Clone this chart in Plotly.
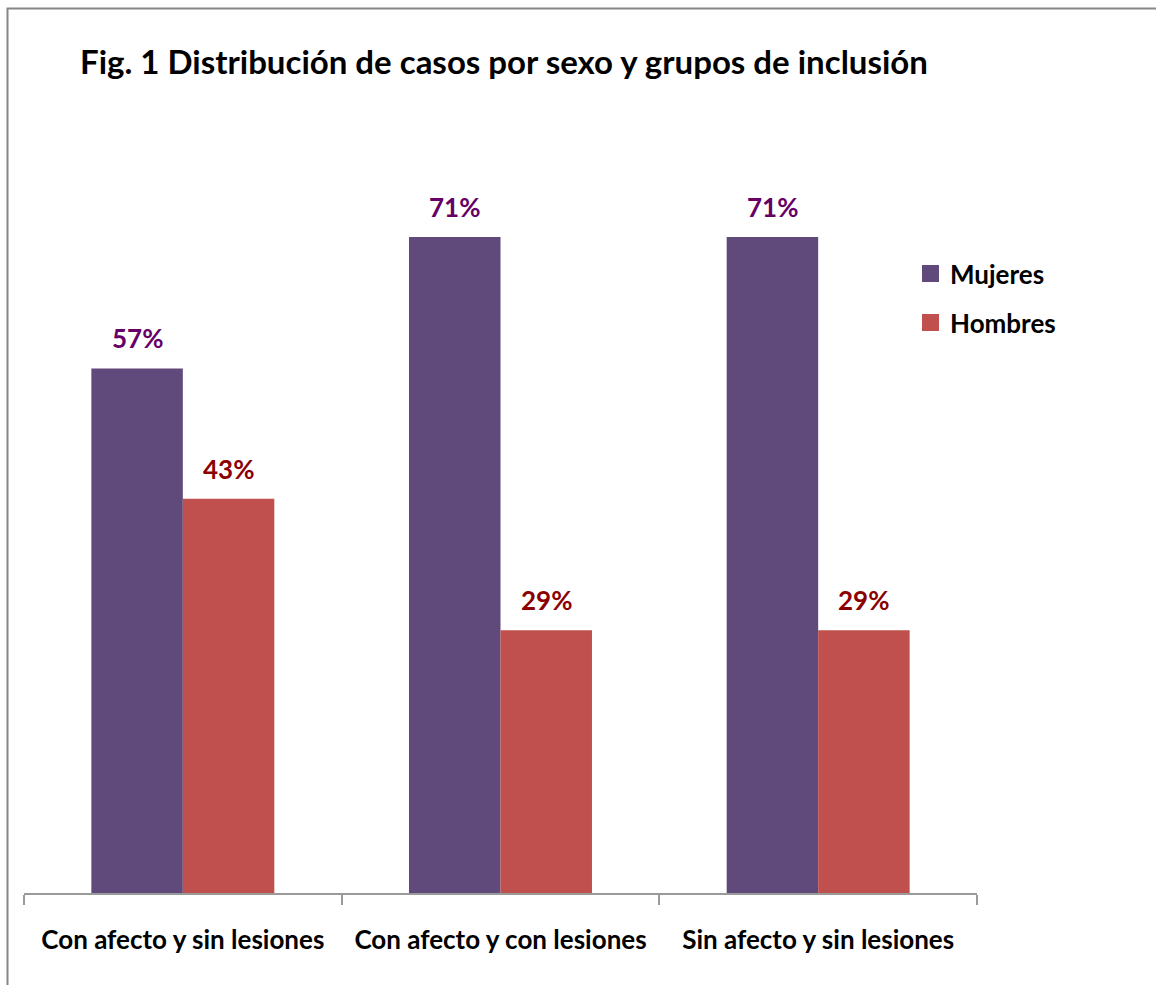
import plotly.graph_objects as go

# Case distribution by sex and inclusion group (shares of each group)
categories = ["Con afecto y sin lesiones", "Con afecto y con lesiones", "Sin afecto y sin lesiones"]
mujeres = [0.571, 0.714, 0.714]
hombres = [0.429, 0.286, 0.286]
series_names = ["Mujeres", "Hombres"]
bar_colors = ["#604A7B", "#C0504D"]
label_colors = ["#660066", "#8B0000"]
title_text = "Fig. 1 Distribución de casos por sexo y grupos de inclusión"

FONT = "Lato"
W, H = 1156, 985
ML, MR, MT, MB = 24, 179, 158, 92
plot_w = W - ML - MR
plot_h = H - MT - MB

fig = go.Figure()
for name, vals, col in zip(series_names, [mujeres, hombres], bar_colors):
    fig.add_trace(go.Bar(
        x=categories, y=vals, name=name,
        marker=dict(color=col, line=dict(width=0)),
        showlegend=False,
    ))

# value labels above each bar
offsets = [-0.5, 0.5]
bar_w = (1 - 0.424) / 2
annotations = []
for k, (vals, lc) in enumerate(zip([mujeres, hombres], label_colors)):
    for i, v in enumerate(vals):
        annotations.append(dict(
            x=i + offsets[k] * bar_w, y=v, xref="x", yref="y",
            text=f"{v:.0%}", showarrow=False, yanchor="bottom",
            yshift=12, font=dict(family=FONT, size=26, color=lc),
        ))

# legend drawn as swatches + labels
def px_x(px):
    return (px - ML) / plot_w

def px_y(py):
    return (H - MB - py) / plot_h

shapes = []
legend_y = [273.5, 322.5]
for name, col, cy in zip(series_names, bar_colors, legend_y):
    shapes.append(dict(type="rect", xref="paper", yref="paper",
                       x0=px_x(922), x1=px_x(939), y0=px_y(cy + 8.5), y1=px_y(cy - 8.5),
                       fillcolor=col, line=dict(width=0)))
    annotations.append(dict(x=px_x(948), y=px_y(cy), xref="paper", yref="paper",
                            text=name, showarrow=False, xanchor="left", yanchor="middle",
                            font=dict(family=FONT, size=26, color="#000000")))

# outer chart border
shapes.append(dict(type="rect", xref="paper", yref="paper",
                   x0=px_x(7.5), x1=px_x(1170), y0=px_y(1000), y1=px_y(8.5),
                   line=dict(color="#868686", width=2), fillcolor="rgba(0,0,0,0)", layer="below"))

fig.update_layout(
    width=W, height=H,
    margin=dict(l=ML, r=MR, t=MT, b=MB),
    paper_bgcolor="white", plot_bgcolor="white",
    barmode="group", bargap=0.424, bargroupgap=0,
    title=dict(text=f"<b>{title_text}</b>", xref="container", yref="container",
               x=80 / W, y=1 - 62 / H, xanchor="left", yanchor="middle",
               font=dict(family=FONT, size=33, color="#000000")),
    xaxis=dict(type="category", range=[-0.5, 2.5], showline=True, linecolor="#9A9A9A",
               linewidth=2, ticks="outside", tickson="boundaries", ticklen=10,
               tickcolor="#9A9A9A", tickwidth=2, showgrid=False,
               tickfont=dict(family=FONT, size=26, color="#000000"),
               ticklabelstandoff=23),
    yaxis=dict(range=[0, 0.8], visible=False, showgrid=False, zeroline=False),
    annotations=annotations,
    shapes=shapes,
    font=dict(family=FONT, weight="bold"),
)
fig.update_xaxes(ticktext=[f"<b>{c}</b>" for c in categories], tickvals=categories)

fig.write_html("out.html")
